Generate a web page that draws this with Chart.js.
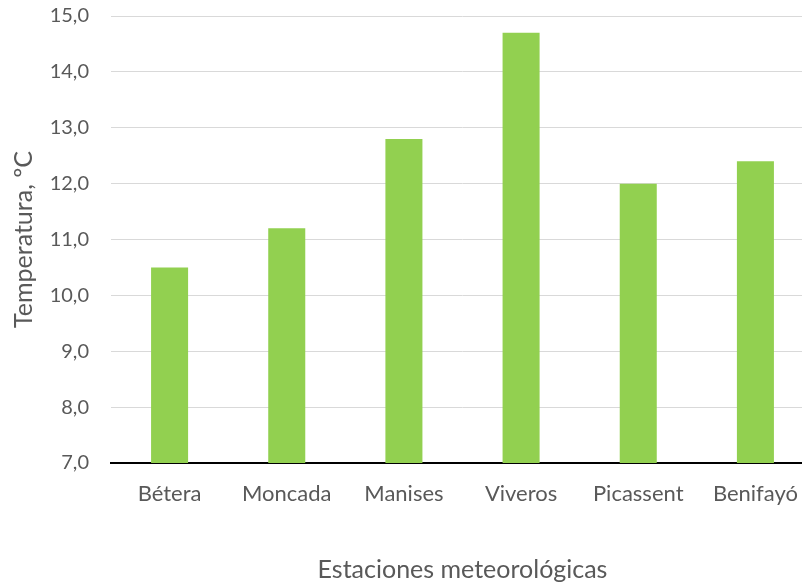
<!DOCTYPE html>
<html>
<head>
<meta charset="utf-8">
<script src="https://cdn.jsdelivr.net/npm/chart.js@4"></script>
<style>
html,body{margin:0;padding:0;overflow:hidden;background:#fff;}
#wrap{width:814px;height:600px;margin-top:-18px;}
</style>
</head>
<body>
<div id="wrap"><canvas id="c" width="814" height="600"></canvas></div>
<script>
const categories = ['Bétera','Moncada','Manises','Viveros','Picassent','Benifayó'];
const temperatures = [10.5, 11.2, 12.8, 14.7, 12.0, 12.4];
const yMin = 7, yMax = 15, yStep = 1;
const xTitle = 'Estaciones meteorológicas';
const yTitle = 'Temperatura, ºC';

const textColor = '#595959';
const fontFamily = 'Lato, "Open Sans", sans-serif';

new Chart(document.getElementById('c'), {
  type: 'bar',
  data: {
    labels: categories,
    datasets: [{
      data: temperatures,
      backgroundColor: '#92D050',
      borderWidth: 0,
      barPercentage: 0.316,
      categoryPercentage: 1
    }]
  },
  options: {
    responsive: false,
    animation: false,
    layout: {padding: 0},
    plugins: {legend: {display: false}, tooltip: {enabled: false}},
    scales: {
      x: {
        grid: {display: false},
        border: {display: true, color: '#000', width: 2},
        ticks: {color: textColor, font: {family: fontFamily, size: 22}, padding: 10, maxRotation: 0},
        title: {display: true, text: xTitle, color: textColor, font: {family: fontFamily, size: 25}, padding: {top: 4, bottom: -3}},
        afterFit: s => { s.height = 119; }
      },
      y: {
        min: yMin, max: yMax,
        grid: {color: ctx => ctx.tick && ctx.tick.value === yMin ? 'rgba(0,0,0,0)' : '#D9D9D9', lineWidth: 1, drawTicks: false},
        border: {display: false},
        ticks: {stepSize: yStep, color: textColor, font: {family: fontFamily, size: 20}, padding: 22,
          callback: v => Number(v).toFixed(1).replace('.', ',')},
        title: {display: true, text: yTitle, color: textColor, font: {family: fontFamily, size: 25}, padding: {top: 9, bottom: 0}},
        afterFit: s => { s.width = 111; }
      }
    }
  }
});
</script>
</body>
</html>
